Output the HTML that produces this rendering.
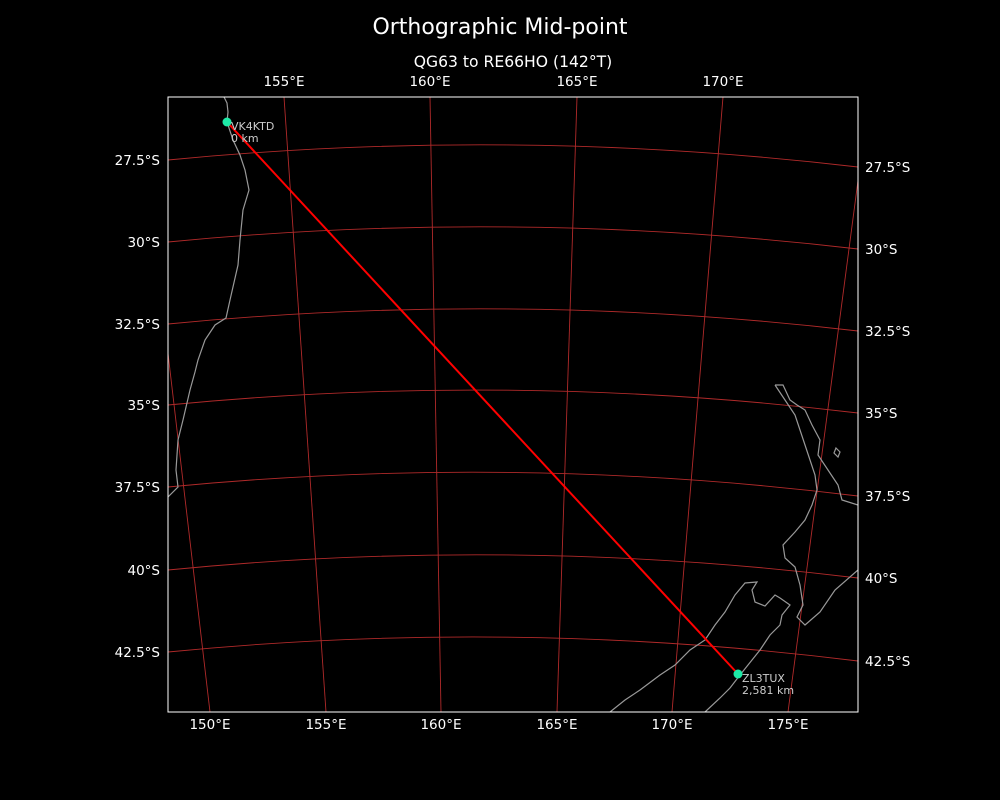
<!DOCTYPE html>
<html><head><meta charset="utf-8"><style>
html,body{margin:0;padding:0;background:#000;}
svg{display:block;}
text{font-family:"DejaVu Sans","Liberation Sans",sans-serif;fill:#fff;}
</style></head><body>
<svg width="1000" height="800" viewBox="0 0 1000 800">
<rect width="1000" height="800" fill="#000"/>
<defs><clipPath id="c"><rect x="168" y="97" width="690" height="615"/></clipPath></defs>
<g clip-path="url(#c)" fill="none">
<g stroke="#b02a2a" stroke-width="0.9">
<path d="M168,160 Q513,126.5 858,167"/>
<path d="M168,242 Q513,208.5 858,249"/>
<path d="M168,324 Q513,290.5 858,331"/>
<path d="M168,405 Q513,371.5 858,413"/>
<path d="M168,487 Q513,453.5 858,496"/>
<path d="M168,570 Q513,536 858,578"/>
<path d="M168,652 Q513,618 858,661"/>
<line x1="138" y1="97" x2="210" y2="712"/>
<line x1="284" y1="97" x2="326" y2="712"/>
<line x1="430" y1="97" x2="441" y2="712"/>
<line x1="577" y1="97" x2="557" y2="712"/>
<line x1="723" y1="97" x2="672" y2="712"/>
<line x1="869" y1="97" x2="788" y2="712"/>
</g>
<g stroke="#999" stroke-width="1.2">
<polyline points="224,97 227,103 228,112 227,122 233,140 240,155 245,170 249,190 243,210 240,240 238,265 230,300 226,318 215,325 205,340 198,360 195,372 190,390 183,420 178,440 176,470 178,487 168,497"/>
<polyline points="775,385 783,385 790,400 797,405 805,410 812,425 820,440 818,455 828,470 838,485 842,500 858,505"/>
<polyline points="775,385 785,400 795,415 800,430 805,445 810,460 815,475 817,490 812,505 805,520 795,532 783,545 785,558 795,567 800,585 803,605 797,617 805,625 820,612 835,590 858,570"/>
<polyline points="610,712 625,700 640,690 660,675 675,665 690,650 705,640 715,625 725,612 735,595 745,583 757,582 752,590 755,602 765,606 775,595 780,598 790,605 782,615 780,625 770,635 760,650 748,665 740,675 730,688 720,698 705,712"/>
<path d="M836,448 l4,4 -2,5 -4,-4z"/>
</g>
<line x1="227" y1="122" x2="738" y2="674" stroke="#ff0000" stroke-width="2"/>
</g>
<rect x="168" y="97" width="690" height="615" fill="none" stroke="#fff" stroke-width="1"/>
<circle cx="227" cy="122" r="4.5" fill="#1de9a6"/>
<circle cx="738" cy="674" r="4.5" fill="#1de9a6"/>
<g font-size="11">
<text x="231" y="130" style="fill:#ccc">VK4KTD</text>
<text x="231" y="142" style="fill:#ccc">0 km</text>
<text x="742" y="682" style="fill:#ccc">ZL3TUX</text>
<text x="742" y="694" style="fill:#ccc">2,581 km</text>
</g>
<text x="500" y="34" font-size="22" text-anchor="middle">Orthographic Mid-point</text>
<text x="513" y="67" font-size="15.6" text-anchor="middle">QG63 to RE66HO (142°T)</text>
<g font-size="13.5" text-anchor="middle">
<text x="284" y="86">155°E</text><text x="430" y="86">160°E</text><text x="577" y="86">165°E</text><text x="723" y="86">170°E</text>
<text x="210" y="729">150°E</text><text x="326" y="729">155°E</text><text x="441" y="729">160°E</text><text x="557" y="729">165°E</text><text x="672" y="729">170°E</text><text x="788" y="729">175°E</text>
</g>
<g font-size="13.5" text-anchor="end">
<text x="160" y="165">27.5°S</text><text x="160" y="247">30°S</text><text x="160" y="329">32.5°S</text><text x="160" y="410">35°S</text><text x="160" y="492">37.5°S</text><text x="160" y="575">40°S</text><text x="160" y="657">42.5°S</text>
</g>
<g font-size="13.5">
<text x="865" y="172">27.5°S</text><text x="865" y="254">30°S</text><text x="865" y="336">32.5°S</text><text x="865" y="418">35°S</text><text x="865" y="501">37.5°S</text><text x="865" y="583">40°S</text><text x="865" y="666">42.5°S</text>
</g>
</svg>
</body></html>
